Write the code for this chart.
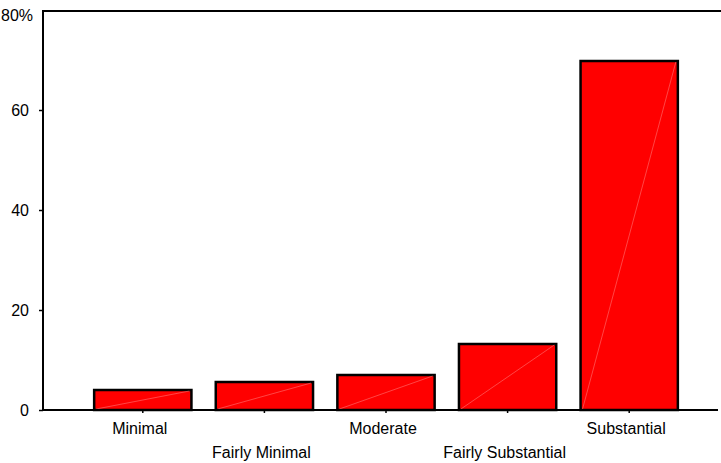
<!DOCTYPE html>
<html>
<head>
<meta charset="utf-8">
<script src="https://cdn.jsdelivr.net/npm/d3@7"></script>
<style>
  body { margin: 0; background: #fff; }
  text { font-family: Arial, 'Liberation Sans', sans-serif; }
</style>
</head>
<body>
<div id="chart"></div>
<script>
var categories = ['Minimal', 'Fairly Minimal', 'Moderate', 'Fairly Substantial', 'Substantial']
var percents = [4.0, 5.6, 7.0, 13.2, 69.8]
var yTicks = [0, 20, 40, 60, 80]

var svg = d3
  .select('#chart')
  .append('svg')
  .attr('width', 721)
  .attr('height', 463)

var plotLeft = 43
var plotRight = 718
var plotTop = 11
var plotBottom = 410

var xPositionScale = d3
  .scaleBand()
  .domain(categories)
  .range([82, 690])
  .paddingInner(0.2)
  .paddingOuter(0.1)

var yPositionScale = d3
  .scaleLinear()
  .domain([0, 80])
  .range([plotBottom, plotTop - 1])

// bars
var bars = svg
  .selectAll('.bar')
  .data(categories)
  .enter()
  .append('g')
  .attr('class', 'bar')

bars
  .append('rect')
  .attr('x', d => xPositionScale(d))
  .attr('y', (d, i) => yPositionScale(percents[i]))
  .attr('width', xPositionScale.bandwidth())
  .attr('height', (d, i) => plotBottom - yPositionScale(percents[i]))
  .attr('fill', '#ff0000')
  .attr('stroke', '#000')
  .attr('stroke-width', 2.5)

// faint diagonal inside each bar
bars
  .append('line')
  .attr('x1', d => xPositionScale(d) + 2)
  .attr('y1', plotBottom - 1)
  .attr('x2', d => xPositionScale(d) + xPositionScale.bandwidth() - 2)
  .attr('y2', (d, i) => yPositionScale(percents[i]) + 1)
  .attr('stroke', '#ff8a8a')
  .attr('stroke-width', 0.5)

// frame: top and left
svg
  .append('path')
  .attr('d', 'M' + plotLeft + ',' + (plotBottom + 1) + 'V' + plotTop + 'H721')
  .attr('fill', 'none')
  .attr('stroke', '#000')
  .attr('stroke-width', 2)

// y axis
var yAxis = d3
  .axisLeft(yPositionScale)
  .tickValues(yTicks)
  .tickSize(4)
  .tickPadding(10)
  .tickFormat(d => (d === 80 ? '80%' : d))
svg
  .append('g')
  .attr('class', 'axis y-axis')
  .attr('transform', 'translate(' + plotLeft + ',0)')
  .call(yAxis)
svg.selectAll('.y-axis path').remove()
svg
  .selectAll('.y-axis line')
  .attr('stroke', '#000')
  .attr('stroke-width', 1.5)
svg
  .selectAll('.y-axis text')
  .attr('font-size', 16)
  .attr('fill', '#000')
  .attr('font-family', 'Arial, Liberation Sans, sans-serif')
// the top label sits on the corner, a little below the tick
svg
  .selectAll('.y-axis .tick')
  .filter(d => d === 80)
  .select('text')
  .attr('text-anchor', 'start')
  .attr('x', -42)
  .attr('y', 5)
svg
  .selectAll('.y-axis .tick')
  .filter(d => d === 80)
  .select('line')
  .remove()

// x axis
var xAxis = d3
  .axisBottom(xPositionScale)
  .tickSize(3)
  .tickSizeOuter(0)
svg
  .append('g')
  .attr('class', 'axis x-axis')
  .attr('transform', 'translate(0,' + plotBottom + ')')
  .call(xAxis)
svg.selectAll('.x-axis path').remove()
svg
  .append('line')
  .attr('x1', plotLeft)
  .attr('x2', plotRight)
  .attr('y1', plotBottom)
  .attr('y2', plotBottom)
  .attr('stroke', '#000')
  .attr('stroke-width', 2)
svg
  .selectAll('.x-axis line')
  .attr('stroke', '#000')
  .attr('stroke-width', 1.5)
svg
  .selectAll('.x-axis text')
  .attr('font-size', 16)
  .attr('fill', '#000')
  .attr('font-family', 'Arial, Liberation Sans, sans-serif')
  .attr('dy', null)
  .attr('x', -3)
  .attr('y', (d, i) => (i % 2 === 0 ? 24 : 48))
</script>
</body>
</html>
